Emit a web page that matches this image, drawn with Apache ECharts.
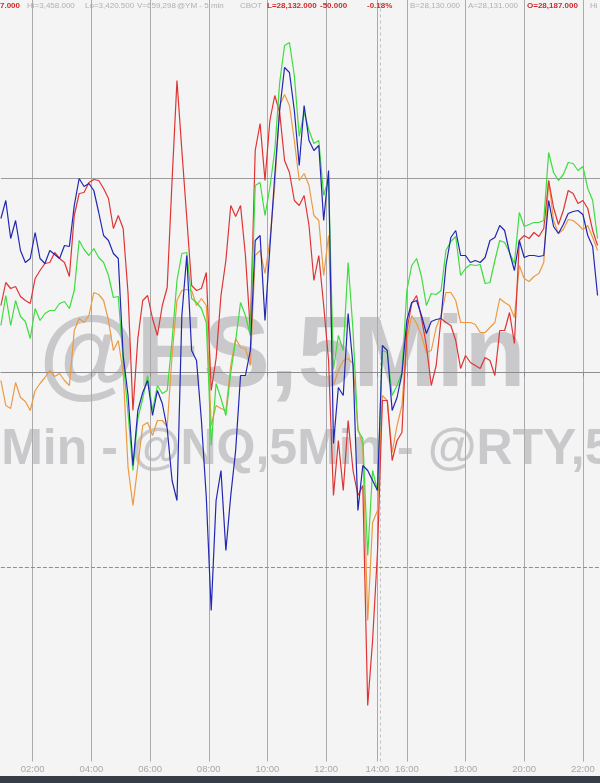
<!DOCTYPE html>
<html><head><meta charset="utf-8">
<script src="https://cdn.jsdelivr.net/npm/echarts@6/dist/echarts.min.js"></script>
<style>html,body{margin:0;padding:0;background:#f4f4f5;}#c{width:600px;height:783px;}</style>
</head><body><div id="c"></div>
<script>
// 5-minute bar sessions (trading halt 13:10-13:30, daily break 14:00-15:05)
const sessions = [["00:55","13:10"],["13:30","14:00"],["15:05","22:35"]];
const tickLabels = ["02:00","04:00","06:00","08:00","10:00","12:00","14:00","16:00","18:00","20:00","22:00"];
const sessionBreak = "15:05";
const gridLevels = [194.5, 0];
const dashedLevel = -194.5;

// values sampled every 10 minutes (every second 5-min bar), relative units
const ymRed = [67,90,84,86,76,72,69,94,102,109,
110,120,114,110,96,157,179,180,190,193,
192,184,174,144,157,144,79,-38,34,72,
77,54,37,67,85,192,292,222,155,87,
82,84,100,-18,14,77,112,167,156,167,
117,42,222,249,192,252,277,260,212,200,
172,167,177,147,92,117,67,12,-123,-68,
-118,-48,-98,-123,-113,-333,-268,-180,-28,-28,
-88,-68,-60,42,69,77,54,27,-13,7,
54,50,47,32,4,17,10,7,4,15,
12,-3,42,42,60,29,132,137,134,140,
136,144,192,165,148,162,182,179,169,172,
164,142,127];
const esGreen = [47,77,47,72,56,51,34,64,52,59,
62,62,69,71,64,82,132,123,117,124,
115,110,97,75,76,12,-41,-98,-46,-26,
-3,-38,-13,-21,-18,32,92,119,120,74,
70,64,50,-73,-11,-26,-43,0,32,70,
57,37,187,190,157,185,222,290,327,330,
297,236,260,242,229,232,177,194,3,37,
22,110,42,-58,-66,-183,-98,-118,22,20,
-23,-13,0,82,107,114,96,67,79,78,
82,122,131,136,97,104,108,107,108,89,
90,112,132,130,120,109,160,146,148,150,
150,152,220,200,192,198,210,209,202,206,
184,172,134];
const nqBlue = [154,172,134,152,122,110,114,140,114,109,
122,118,114,127,126,167,194,186,189,182,
160,137,132,119,114,17,-23,-93,-38,-20,
-8,-43,-18,-31,-56,-108,-128,57,117,22,
12,-48,-125,-238,-128,-98,-178,-123,-78,-3,
-3,22,132,137,52,125,197,262,305,300,
262,207,267,232,222,227,152,202,-71,-15,
-23,59,7,-138,-93,-98,-108,-118,27,22,
-38,-25,-1,52,70,72,57,39,51,53,
54,107,135,142,117,117,110,112,110,115,
132,135,147,142,120,102,132,115,117,117,
116,117,172,146,139,148,159,161,162,158,
137,126,77];
const rtyOrange = [-8,-33,-36,-10,-25,-29,-38,-18,-11,-5,
2,-4,-1,-8,-13,42,54,50,57,80,
78,72,52,22,32,0,-95,-133,-93,-53,
-50,-63,-48,-48,-54,17,72,82,83,82,
67,74,67,-53,-33,-36,-38,7,34,25,
24,7,117,122,99,132,187,267,278,267,
232,192,199,187,157,152,97,137,-13,2,
12,14,9,-56,-73,-248,-150,-138,-23,-28,
-80,-53,-33,32,57,49,37,20,22,45,
57,80,80,72,50,50,50,48,40,40,
45,50,74,70,67,55,107,94,91,96,
99,110,192,152,139,143,153,152,148,143,
147,135,122];

function toMin(s){const p=s.split(':').map(Number);return p[0]*60+p[1];}
function fmt(t){return String(Math.floor(t/60)).padStart(2,'0')+':'+String(t%60).padStart(2,'0');}
const categories=[];
sessions.forEach(([a,b])=>{for(let t=toMin(a);t<=toMin(b);t+=5)categories.push(fmt(t));});
const pairs = vals => vals.map((v,k)=>[categories[2*k], v]);
const isTick = (i,v) => tickLabels.indexOf(v) >= 0;

const FONT = '"Liberation Sans", Arial, sans-serif';
const header = [
  ["7.000",0,true],["Hi=3,458.000",27,false],["Lo=3,420.500",85,false],["V=659,298",137,false],
  ["@YM - 5 min",177,false],["CBOT",240,false],["L=28,132.000",267,true],["-50.000",320,true],
  ["-0.18%",367,true],["B=28,130.000",410,false],["A=28,131.000",468,false],["O=28,187.000",527,true],["Hi",590,false]
];
const graphics = [];
graphics.push({type:'text', x:39, y:358, z:0, silent:true,
  style:{text:'@ES,5Min', font:'bold 100px '+FONT, fill:'#c9c9cb', verticalAlign:'middle', textVerticalAlign:'middle'}});
graphics.push({type:'text', x:-156, y:450, z:0, silent:true,
  style:{text:'@ES,5Min - @NQ,5Min - @RTY,5Min', font:'bold 50px '+FONT, fill:'#c9c9cb', verticalAlign:'middle', textVerticalAlign:'middle'}});
header.forEach(([t,x,red])=>graphics.push({type:'text', x:x, y:6, z:10, silent:true,
  style:{text:t, font:(red?'bold ':'')+'8px '+FONT, fill: red?'#cf2a2a':'#b0b0b3', verticalAlign:'middle', textVerticalAlign:'middle'}}));
graphics.push({type:'rect', shape:{x:0,y:776,width:600,height:7}, z:10, silent:true, style:{fill:'#363d47'}});

const mk = (name,color,vals,extra) => Object.assign({
  name, type:'line', data:pairs(vals), showSymbol:false, symbol:'none', z:3,
  lineStyle:{color, width:1.2}, itemStyle:{color}, animation:false, silent:true
}, extra||{});

const chart = echarts.init(document.getElementById('c'), null, {renderer:'canvas'});
chart.setOption({
  backgroundColor:'#f4f4f5',
  animation:false,
  graphic: graphics,
  grid:{left:0.9, right:0, top:0, bottom:21.5, containLabel:false},
  xAxis:{type:'category', data:categories, boundaryGap:false, z:1,
    axisLine:{lineStyle:{color:'#8d8d8f', width:1}},
    axisTick:{show:true, interval:isTick, length:4, lineStyle:{color:'#8d8d8f'}},
    axisLabel:{interval:isTick, color:'#a9a9ac', fontSize:9.5, fontFamily:FONT, margin:3},
    splitLine:{show:true, interval:isTick, lineStyle:{color:'#aaaaac', width:1}}},
  yAxis:{type:'value', min:-389, max:372.5, interval:194.5, z:1,
    axisLine:{show:false}, axisTick:{show:false}, axisLabel:{show:false}, splitLine:{show:false}},
  series:[
    mk('@RTY,5Min','#ec9a42',rtyOrange,{markLine:{silent:true, symbol:'none', animation:false, label:{show:false}, z:1,
      data:[
        {xAxis:sessionBreak, lineStyle:{type:[3,3], color:'#c2c2c4', width:1}},
        {yAxis:gridLevels[0], lineStyle:{type:'solid', color:'#9b9b9d', width:1}},
        {yAxis:gridLevels[1], lineStyle:{type:'solid', color:'#9b9b9d', width:1}},
        {yAxis:dashedLevel, lineStyle:{type:[4,2], color:'#8f8f91', width:1}}
      ]}}),
    mk('@YM,5Min','#df3434',ymRed),
    mk('@ES,5Min','#3fdc3f',esGreen),
    mk('@NQ,5Min','#2127b2',nqBlue)
  ]
});
</script></body></html>
